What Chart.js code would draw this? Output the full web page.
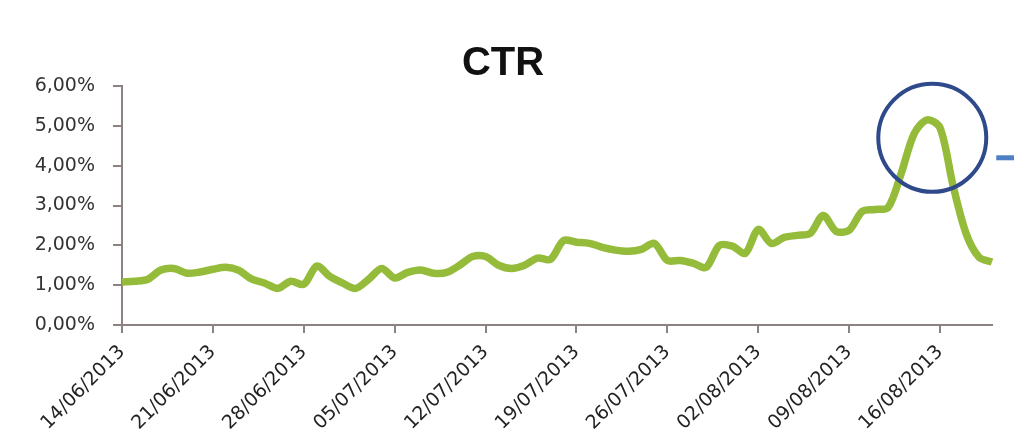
<!DOCTYPE html>
<html>
<head>
<meta charset="utf-8">
<title>CTR</title>
<script src="https://cdn.jsdelivr.net/npm/chart.js@4.4.1/dist/chart.umd.min.js"></script>
<style>
  body { margin: 0; background: #fff; overflow: hidden; }
  #wrap { width: 1014px; height: 447px; position: relative; }
</style>
</head>
<body>
<div id="wrap"><canvas id="ctr-chart"></canvas></div>
<script>
const days = [
  '14/06/2013', '15/06/2013', '16/06/2013', '17/06/2013', '18/06/2013', '19/06/2013', '20/06/2013',
  '21/06/2013', '22/06/2013', '23/06/2013', '24/06/2013', '25/06/2013', '26/06/2013', '27/06/2013',
  '28/06/2013', '29/06/2013', '30/06/2013', '01/07/2013', '02/07/2013', '03/07/2013', '04/07/2013',
  '05/07/2013', '06/07/2013', '07/07/2013', '08/07/2013', '09/07/2013', '10/07/2013', '11/07/2013',
  '12/07/2013', '13/07/2013', '14/07/2013', '15/07/2013', '16/07/2013', '17/07/2013', '18/07/2013',
  '19/07/2013', '20/07/2013', '21/07/2013', '22/07/2013', '23/07/2013', '24/07/2013', '25/07/2013',
  '26/07/2013', '27/07/2013', '28/07/2013', '29/07/2013', '30/07/2013', '31/07/2013', '01/08/2013',
  '02/08/2013', '03/08/2013', '04/08/2013', '05/08/2013', '06/08/2013', '07/08/2013', '08/08/2013',
  '09/08/2013', '10/08/2013', '11/08/2013', '12/08/2013', '13/08/2013', '14/08/2013', '15/08/2013',
  '16/08/2013', '17/08/2013', '18/08/2013', '19/08/2013', '20/08/2013'
];

// CTR in percent
const ctr = [
  1.08, 1.10, 1.15, 1.38, 1.42, 1.30, 1.33, 1.40, 1.45, 1.37,
  1.15, 1.05, 0.92, 1.10, 1.02, 1.48, 1.22, 1.05, 0.92, 1.15,
  1.42, 1.18, 1.32, 1.38, 1.30, 1.32, 1.50, 1.72, 1.72, 1.50,
  1.42, 1.50, 1.68, 1.65, 2.12, 2.08, 2.05, 1.95, 1.88, 1.85,
  1.90, 2.05, 1.62, 1.62, 1.55, 1.45, 2.00, 1.98, 1.80, 2.40,
  2.05, 2.20, 2.25, 2.30, 2.75, 2.35, 2.38, 2.85, 2.90, 2.95,
  3.80, 4.80, 5.15, 4.95, 3.50, 2.30, 1.70, 1.58
];

const yTicks = [0, 1, 2, 3, 4, 5, 6];
const labelEvery = 7;

// highlighted peak (index position and CTR value of circle centre)
const peakIndex = 62.4;
const peakValue = 4.7;

const axisColor = '#8c8282';

const peakCircle = {
  id: 'peakCircle',
  afterDatasetsDraw(chart) {
    const { ctx, scales } = chart;
    const cx = scales.x.getPixelForValue(peakIndex);
    const cy = scales.y.getPixelForValue(peakValue);
    ctx.save();
    ctx.strokeStyle = '#2f4a8a';
    ctx.lineWidth = 4;
    ctx.beginPath();
    ctx.arc(cx, cy, 54, 0, Math.PI * 2);
    ctx.stroke();
    ctx.strokeStyle = '#4f7fc4';
    ctx.lineWidth = 5;
    ctx.beginPath();
    ctx.moveTo(cx + 64, cy + 20);
    ctx.lineTo(chart.width, cy + 20);
    ctx.stroke();
    ctx.restore();
  }
};

new Chart(document.getElementById('ctr-chart'), {
  type: 'line',
  data: {
    labels: days,
    datasets: [{
      label: 'CTR',
      data: ctr,
      borderColor: '#94bb3a',
      borderWidth: 7.5,
      pointRadius: 0,
      tension: 0.3,
      fill: false
    }]
  },
  options: {
    responsive: true,
    maintainAspectRatio: false,
    animation: false,
    layout: { padding: { left: 14, right: 22, top: 0, bottom: 0 } },
    plugins: {
      legend: { display: false },
      tooltip: { enabled: false },
      title: {
        display: true,
        text: 'CTR',
        color: '#111',
        font: { family: 'Liberation Sans', size: 40, weight: 'bold', lineHeight: 1 },
        padding: { top: 44, bottom: 2 }
      }
    },
    scales: {
      x: {
        offset: false,
        border: { color: axisColor, width: 2 },
        grid: { drawOnChartArea: false, drawTicks: true, tickLength: 8, color: axisColor, lineWidth: 2 },
        ticks: {
          autoSkip: false,
          maxRotation: 45,
          minRotation: 45,
          padding: 8,
          color: '#222',
          font: { family: 'DejaVu Sans', size: 19 },
          callback: (val, i) => (i % labelEvery === 0 ? days[i] : null)
        },
        afterFit: (scale) => { scale.height = 122; }
      },
      y: {
        min: yTicks[0],
        max: yTicks[yTicks.length - 1],
        border: { color: axisColor, width: 2 },
        grid: { drawOnChartArea: false, drawTicks: true, tickLength: 9, color: axisColor, lineWidth: 2 },
        afterBuildTicks: (scale) => { scale.ticks = yTicks.map(v => ({ value: v })); },
        ticks: {
          padding: 18,
          color: '#333',
          font: { family: 'DejaVu Sans', size: 19 },
          callback: (v) => v.toFixed(2).replace('.', ',') + '%'
        },
        afterFit: (scale) => { scale.width = 108; }
      }
    }
  },
  plugins: [peakCircle]
});
</script>
</body>
</html>
